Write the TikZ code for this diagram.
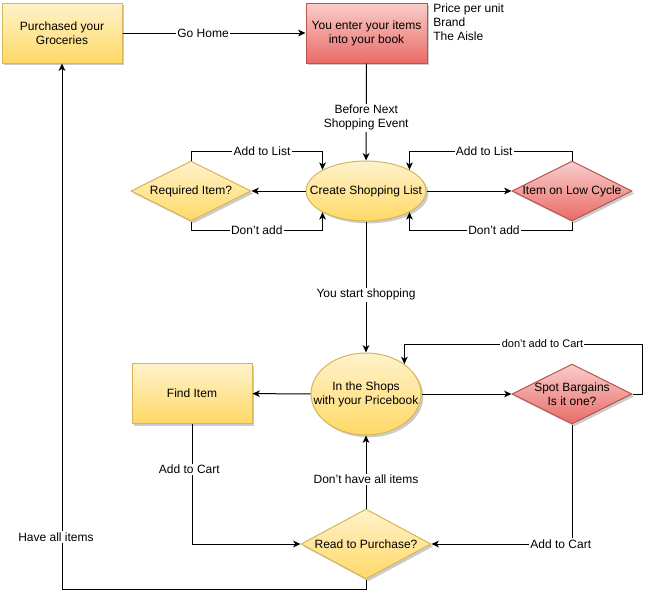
\documentclass[tikz,border=0pt]{standalone}
\usepackage{fontspec}
\setmainfont{Liberation Sans}
\usetikzlibrary{shapes.geometric,shadows,arrows.meta}
\definecolor{ytop}{HTML}{FFF2CC}
\definecolor{ybot}{HTML}{FFD966}
\definecolor{ystroke}{HTML}{D6B656}
\definecolor{rtop}{HTML}{F8CECC}
\definecolor{rbot}{HTML}{EA6B66}
\definecolor{rstroke}{HTML}{B85450}
\begin{document}
\begin{tikzpicture}[x=0.75pt,y=-0.75pt,
  font=\fontsize{9}{10.5}\selectfont,
  shad/.style={drop shadow={shadow xshift=1.8pt,shadow yshift=-1.8pt,opacity=0.2,fill=black}},
  yfill/.style={draw=ystroke,line width=0.75pt,top color=ytop,bottom color=ybot,shad},
  rfill/.style={draw=rstroke,line width=0.75pt,top color=rtop,bottom color=rbot,shad},
  boxshape/.style={rectangle,minimum width=90pt,minimum height=45pt,align=center,inner sep=0pt},
  lab/.style={label={[align=center]center:#1}},
  conn/.style={draw=black,line width=0.75pt,-{Stealth[length=5.5pt,width=5pt,inset=1.5pt]}},
  lbl/.style={fill=white,inner sep=1pt,font=\fontsize{9}{10.5}\selectfont,align=center}
]
\useasboundingbox (0,0) rectangle (652,600);

% nodes
\node[yfill,boxshape] (buy) at (62,33) {Purchased your\\Groceries};
\node[rfill,boxshape,minimum width=90.75pt] (enter) at (366.5,33) {You enter your items\\into your book};
\node[anchor=north west,align=left,inner sep=0pt] (info) at (433,4) {Price per unit\\Brand\\The Aisle};

\node[yfill,ellipse,minimum width=90pt,minimum height=45pt,inner sep=0pt,lab={Create Shopping List}] (list) at (366,191) {};
\node[yfill,diamond,minimum width=90pt,minimum height=45pt,inner sep=0pt,lab={Required Item?}] (req) at (191,191) {};
\node[rfill,diamond,minimum width=90pt,minimum height=45pt,inner sep=0pt,lab={Item on Low Cycle}] (low) at (572,191) {};

\node[yfill,ellipse,minimum width=82.5pt,minimum height=61.5pt,inner sep=0pt,lab={In the Shops\\with your Pricebook}] (shops) at (366,394) {};
\node[yfill,boxshape] (find) at (192,393.5) {Find Item};
\node[rfill,diamond,minimum width=90pt,minimum height=45pt,inner sep=0pt,lab={Spot Bargains\\Is it one?}] (spot) at (572,394) {};

\node[yfill,diamond,minimum width=97.5pt,minimum height=52.5pt,inner sep=0pt,lab={Read to Purchase?}] (ready) at (366,544) {};

% connectors
\draw[conn] (buy.east) -- node[lbl,pos=0.44]{Go Home} (enter.west);
\draw[conn] (enter) -- node[lbl,pos=0.56]{Before Next\\Shopping Event} (list);
\draw[conn] (list) -- (req);
\draw[conn] (list) -- (low);
\draw[conn] (req.north) -- ++(0,-9) -| node[lbl,pos=0.27]{Add to List} (list.154);
\draw[conn] (req.south) -- ++(0,9) -| node[lbl,pos=0.25]{Don't add} (list.206);
\draw[conn] (low.north) -- ++(0,-9) -| node[lbl,pos=0.27]{Add to List} (list.26);
\draw[conn] (low.south) -- ++(0,9) -| node[lbl,pos=0.24]{Don't add} (list.334);
\draw[conn] (list) -- node[lbl,pos=0.56]{You start shopping} (shops);
\draw[conn] (shops) -- (find);
\draw[conn] (shops) -- (spot);
\draw[conn] (spot.east) -- ++(10,0) -- ++(0,-50) -| node[lbl,pos=0.21,font=\fontsize{8.25}{9.6}\selectfont]{don't add to Cart} (shops.38);
\draw[conn] (find.south) |- node[lbl,pos=0.19,xshift=-2pt]{Add to Cart} (ready.west);
\draw[conn] (spot.south) |- node[lbl,pos=0.54]{Add to Cart} (ready.east);
\draw[conn] (ready.north) -- node[lbl,pos=0.4]{Don't have all items} (shops.south);
\draw[conn] (ready.south) -- ++(0,10) -| node[lbl,pos=0.55,xshift=-4.5pt]{Have all items} (buy.south);
\end{tikzpicture}
\end{document}
